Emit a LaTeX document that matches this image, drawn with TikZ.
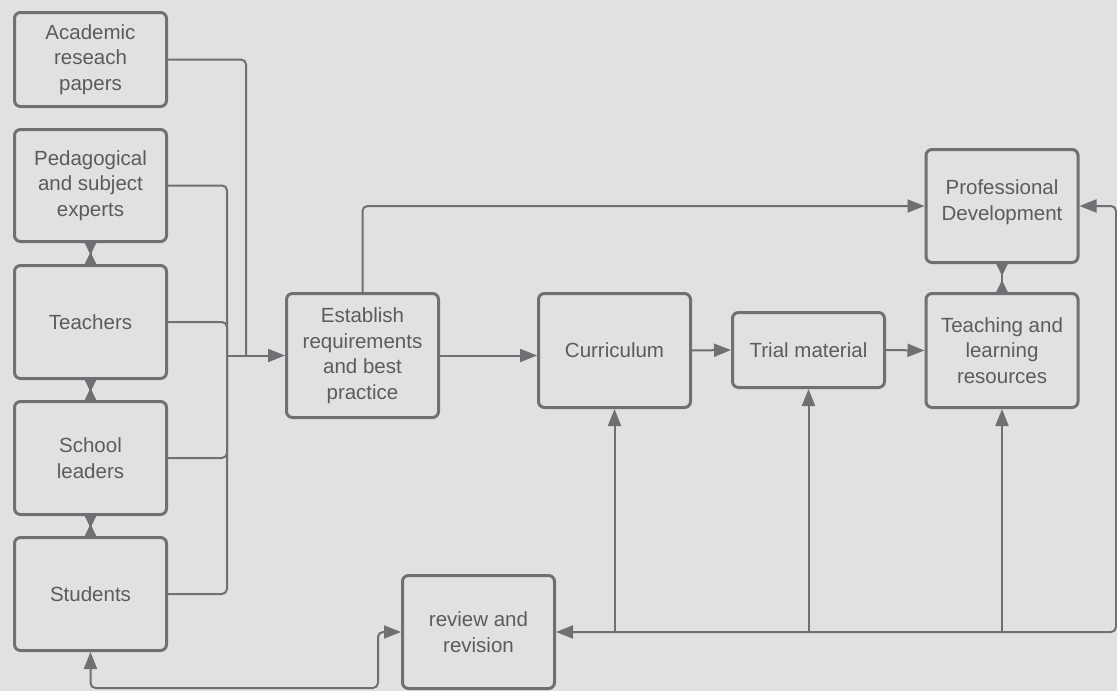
\documentclass[tikz,border=0pt]{standalone}
\usepackage{fontspec}
\setmainfont{Liberation Sans}
\usetikzlibrary{arrows.meta}
\definecolor{bgcol}{HTML}{E0E1E0}
\definecolor{edgecol}{HTML}{6E7073}
\definecolor{txtcol}{HTML}{5A5C5F}
\tikzset{
  box/.style={draw=edgecol, line width=3pt, rounded corners=6pt, minimum width=152pt,
    align=center, text=txtcol, inner sep=0pt, font=\fontsize{20.5}{25.5}\selectfont},
  conn/.style={draw=edgecol, line width=2pt, rounded corners=5pt},
  arr/.style={conn, -{Triangle[length=17pt,width=13pt]}},
  arrtwo/.style={conn, {Triangle[length=17pt,width=13pt]}-{Triangle[length=17pt,width=13pt]}},
  twin/.style={draw=edgecol, line width=2pt,
    {Triangle[reversed,length=12pt,width=11pt]}-{Triangle[reversed,length=12pt,width=11pt]}},
}
\begin{document}
\begin{tikzpicture}[x=1pt,y=-1pt]
        \fill[bgcol] (0,0) rectangle (1117,691);
        \useasboundingbox (0,0) rectangle (1117,691);

        \node[box, minimum height=94pt] (aca) at (90.5,59.5) {Academic\\reseach\\papers};
        \node[box, minimum height=112pt] (ped) at (90.5,185.5) {Pedagogical\\and subject\\experts};
        \node[box, minimum height=113pt] (tea) at (90.5,322) {Teachers};
        \node[box, minimum height=113pt] (sch) at (90.5,458) {School\\leaders};
        \node[box, minimum height=113pt] (stu) at (90.5,594) {Students};

        \node[box, minimum height=124pt] (est) at (362.5,355.5) {Establish\\requirements\\and best\\practice};
        \node[box, minimum height=114pt] (cur) at (614.5,350.5) {Curriculum};
        \node[box, minimum height=75pt] (tri) at (808.5,350) {Trial material};
        \node[box, minimum height=114pt] (tlr) at (1002,350.5) {Teaching and\\learning\\resources};
        \node[box, minimum height=113pt] (pd) at (1002,206) {};
        \node[text=txtcol, align=center, font=\fontsize{20.5}{25.5}\selectfont] (pdt) at (1002,202) {Professional\\Development};
        \node[box, minimum height=113pt] (rev) at (478.5,632) {review and\\revision};

        \draw[twin] (ped.south) -- (tea.north);
        \draw[twin] (tea.south) -- (sch.north);
        \draw[twin] (sch.south) -- (stu.north);
        \draw[twin] (tlr.north) -- (pd.south);

        \coordinate (jn) at (227,355.5);
        \coordinate (ja) at (246,355.5);
        \draw[conn] (aca.east) -| (ja);
        \draw[conn] (ped.east) -| (jn);
        \draw[conn] (tea.east) -| (jn);
        \draw[conn] (sch.east) -| (jn);
        \draw[conn] (stu.east) -| (jn);
        \draw[arr] (jn) -- (est.west);

        \draw[arr] (est.north) |- (pd.west);
        \draw[arr] (est.east) -- (est.east -| cur.west);
        \draw[arr] (cur.east) -- (tri.west);
        \draw[arr] (tri.east) -- (tlr.west);

        \coordinate (rb) at (1116,632);
        \draw[arrtwo] (rev.east) -- (rb) |- (pd.east);
        \draw[arr] (cur.south |- rb) -- (cur.south);
        \draw[arr] (tri.south |- rb) -- (tri.south);
        \draw[arr] (tlr.south |- rb) -- (tlr.south);

        \coordinate (lo) at (378,688);
        \draw[arrtwo] (stu.south) |- (lo) |- (rev.west);
\end{tikzpicture}
\end{document}
